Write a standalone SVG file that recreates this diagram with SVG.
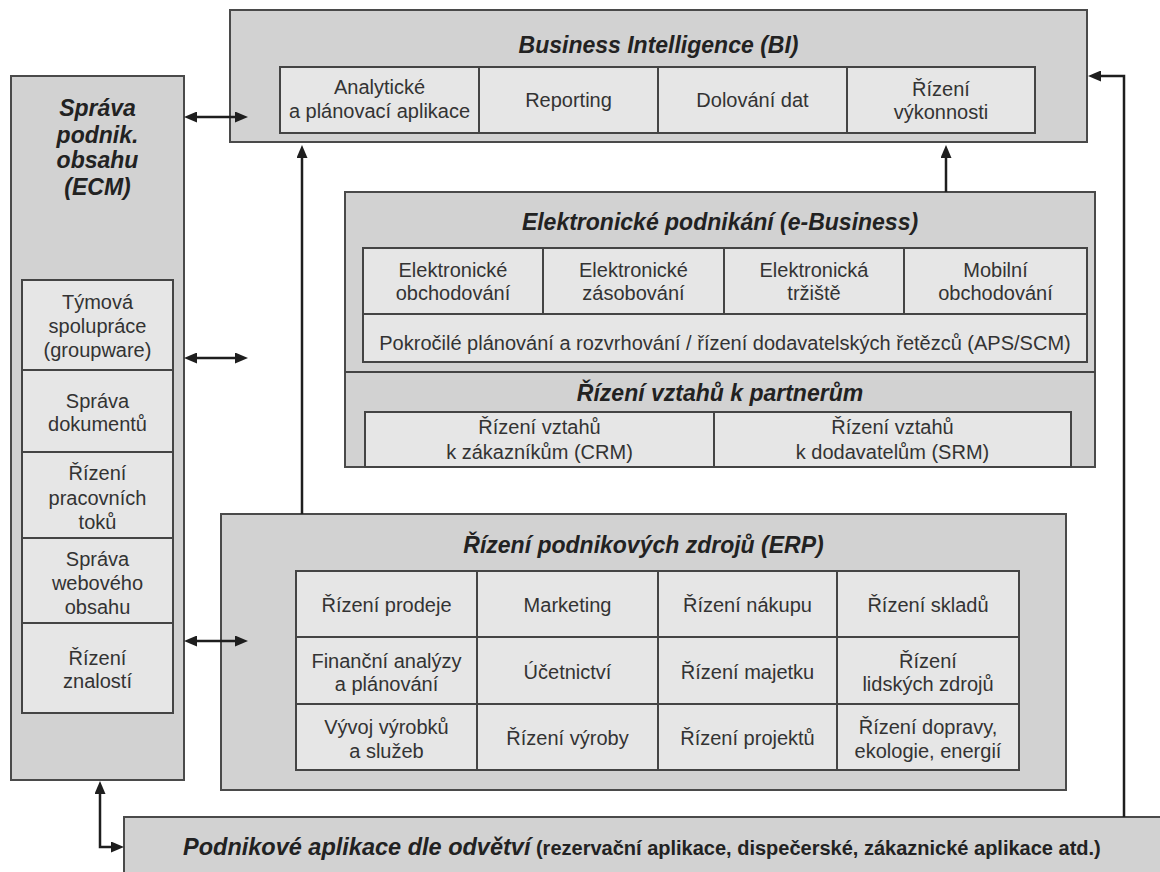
<svg xmlns="http://www.w3.org/2000/svg" width="1160" height="872" viewBox="0 0 1160 872">
  <style>
    .outer { fill: #d2d2d2; stroke: #4a4a4a; stroke-width: 2; }
    .cell { fill: #e6e6e6; stroke: #444; stroke-width: 2; }
    .sep { stroke: #444; stroke-width: 2; fill: none; }
    .title { font-family: "Liberation Sans", Arial, sans-serif; font-size: 23px; font-weight: bold; font-style: italic; fill: #222; text-anchor: middle; }
    .lbl { font-family: "Liberation Sans", Arial, sans-serif; font-size: 20px; fill: #333; text-anchor: middle; }
    .conn { stroke: #1e1e1e; stroke-width: 2.5; fill: none; }
  </style>
  <defs>
    <marker id="arrow" viewBox="0 0 13 11" markerWidth="13" markerHeight="11" refX="7" refY="5.5" markerUnits="userSpaceOnUse" orient="auto-start-reverse">
      <path d="M0,0 L13,5.5 L0,11 z" fill="#1e1e1e"/>
    </marker>
  </defs>

  <rect width="1160" height="872" fill="#ffffff"/>

  <!-- Business Intelligence -->
  <g id="bi">
    <rect class="outer" x="230" y="10" width="857" height="132"/>
    <text class="title" x="658.5" y="53">Business Intelligence (BI)</text>
    <rect class="cell" x="280" y="67" width="755" height="66"/>
    <path class="sep" d="M479,67 V133 M658,67 V133 M847,67 V133"/>
    <text class="lbl" x="379.5" y="94">Analytické</text>
    <text class="lbl" x="379.5" y="118">a plánovací aplikace</text>
    <text class="lbl" x="568.5" y="107">Reporting</text>
    <text class="lbl" x="752.5" y="107">Dolování dat</text>
    <text class="lbl" x="941" y="96">Řízení</text>
    <text class="lbl" x="941" y="119">výkonnosti</text>
  </g>

  <!-- Enterprise content management -->
  <g id="ecm">
    <rect class="outer" x="11" y="76" width="173" height="704"/>
    <text class="title" x="97.5" y="116">Správa</text>
    <text class="title" x="97.5" y="143">podnik.</text>
    <text class="title" x="97.5" y="168">obsahu</text>
    <text class="title" x="97.5" y="195">(ECM)</text>
    <rect class="cell" x="22" y="280" width="151" height="433"/>
    <path class="sep" d="M22,370 H173 M22,452 H173 M22,538 H173 M22,623 H173"/>
    <text class="lbl" x="97.5" y="309">Týmová</text>
    <text class="lbl" x="97.5" y="333">spolupráce</text>
    <text class="lbl" x="97.5" y="357">(groupware)</text>
    <text class="lbl" x="97.5" y="408">Správa</text>
    <text class="lbl" x="97.5" y="431">dokumentů</text>
    <text class="lbl" x="97.5" y="480">Řízení</text>
    <text class="lbl" x="97.5" y="505">pracovních</text>
    <text class="lbl" x="97.5" y="529">toků</text>
    <text class="lbl" x="97.5" y="566">Správa</text>
    <text class="lbl" x="97.5" y="590">webového</text>
    <text class="lbl" x="97.5" y="614">obsahu</text>
    <text class="lbl" x="97.5" y="665">Řízení</text>
    <text class="lbl" x="97.5" y="688">znalostí</text>
  </g>

  <!-- e-Business and partner relationship management -->
  <g id="ebusiness">
    <rect class="outer" x="345" y="192" width="750" height="275"/>
    <text class="title" x="720" y="230">Elektronické podnikání (e-Business)</text>
    <rect class="cell" x="363" y="248" width="724" height="114"/>
    <path class="sep" d="M363,314 H1087 M543,248 V314 M724,248 V314 M904,248 V314"/>
    <text class="lbl" x="453" y="277">Elektronické</text>
    <text class="lbl" x="453" y="300">obchodování</text>
    <text class="lbl" x="633.5" y="277">Elektronické</text>
    <text class="lbl" x="633.5" y="300">zásobování</text>
    <text class="lbl" x="814" y="277">Elektronická</text>
    <text class="lbl" x="814" y="300">tržiště</text>
    <text class="lbl" x="995.5" y="277">Mobilní</text>
    <text class="lbl" x="995.5" y="300">obchodování</text>
    <text class="lbl" x="725" y="350">Pokročilé plánování a rozvrhování / řízení dodavatelských řetězců (APS/SCM)</text>
  </g>
  <g id="prm">
    <path class="sep" d="M345,372 H1095"/>
    <text class="title" x="720" y="401">Řízení vztahů k partnerům</text>
    <rect class="cell" x="365" y="412" width="706" height="55"/>
    <path class="sep" d="M714,412 V467"/>
    <text class="lbl" x="539.5" y="434">Řízení vztahů</text>
    <text class="lbl" x="539.5" y="459">k zákazníkům (CRM)</text>
    <text class="lbl" x="892.5" y="434">Řízení vztahů</text>
    <text class="lbl" x="892.5" y="459">k dodavatelům (SRM)</text>
  </g>

  <!-- Enterprise resource planning -->
  <g id="erp">
    <rect class="outer" x="221" y="514" width="845" height="276"/>
    <text class="title" x="643.5" y="553">Řízení podnikových zdrojů (ERP)</text>
    <rect class="cell" x="296" y="571" width="723" height="199"/>
    <path class="sep" d="M296,637 H1019 M296,704 H1019 M477,571 V770 M658,571 V770 M837,571 V770"/>
    <text class="lbl" x="386.5" y="612">Řízení prodeje</text>
    <text class="lbl" x="567.5" y="612">Marketing</text>
    <text class="lbl" x="747.5" y="612">Řízení nákupu</text>
    <text class="lbl" x="928" y="612">Řízení skladů</text>
    <text class="lbl" x="386.5" y="668">Finanční analýzy</text>
    <text class="lbl" x="386.5" y="691">a plánování</text>
    <text class="lbl" x="567.5" y="679">Účetnictví</text>
    <text class="lbl" x="747.5" y="679">Řízení majetku</text>
    <text class="lbl" x="928" y="668">Řízení</text>
    <text class="lbl" x="928" y="691">lidských zdrojů</text>
    <text class="lbl" x="386.5" y="734">Vývoj výrobků</text>
    <text class="lbl" x="386.5" y="758">a služeb</text>
    <text class="lbl" x="567.5" y="745">Řízení výroby</text>
    <text class="lbl" x="747.5" y="745">Řízení projektů</text>
    <text class="lbl" x="928" y="734">Řízení dopravy,</text>
    <text class="lbl" x="928" y="758">ekologie, energií</text>
  </g>

  <!-- Industry-specific applications -->
  <g id="industry">
    <rect class="outer" x="124" y="817" width="1050" height="70"/>
    <text x="183" y="855" font-family="Liberation Sans, Arial, sans-serif" font-weight="bold" fill="#222"><tspan font-size="23.5" font-style="italic">Podnikové aplikace dle odvětví</tspan><tspan font-size="20"> (rezervační aplikace, dispečerské, zákaznické aplikace atd.)</tspan></text>
  </g>

  <!-- Connectors -->
  <g id="connectors">
    <line class="conn" x1="190" y1="117" x2="242" y2="117" marker-start="url(#arrow)" marker-end="url(#arrow)"/>
    <line class="conn" x1="190" y1="358" x2="242" y2="358" marker-start="url(#arrow)" marker-end="url(#arrow)"/>
    <line class="conn" x1="190" y1="641" x2="242" y2="641" marker-start="url(#arrow)" marker-end="url(#arrow)"/>
    <line class="conn" x1="302" y1="514" x2="302" y2="151" marker-end="url(#arrow)"/>
    <line class="conn" x1="946" y1="192" x2="946" y2="151" marker-end="url(#arrow)"/>
    <polyline class="conn" points="1124,817 1124,76 1094,76" marker-end="url(#arrow)"/>
    <polyline class="conn" points="100,787 100,847 118,847" marker-start="url(#arrow)" marker-end="url(#arrow)"/>
  </g>
</svg>
